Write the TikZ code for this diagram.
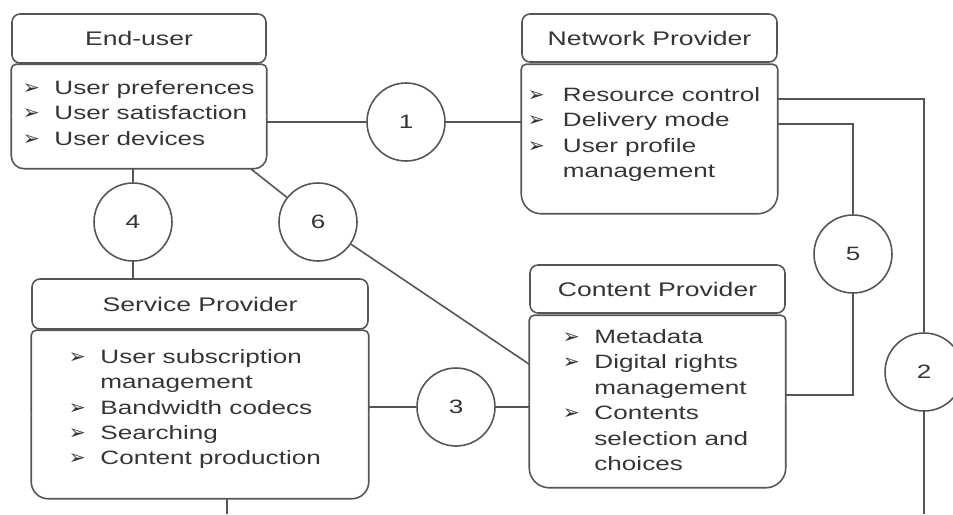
\documentclass[tikz,border=0pt]{standalone}
\usepackage{fontspec}
\setmainfont{Liberation Sans}[FakeStretch=1.35]
\newfontfamily\bulfont{DejaVu Sans}
\usetikzlibrary{calc}
\definecolor{ln}{HTML}{555555}
\definecolor{tx}{HTML}{353535}
\newcommand\itm[1][18pt]{\makebox[#1][l]{\bulfont\fontsize{11.5}{11.5}\selectfont ➢}}
\newcommand\cont[1][18pt]{\hspace*{#1}}
\newcommand\bodyline[2]{%
  \draw[rounded corners=0.1cm] (#1.west) |- (#1.north) -| (#1.east);
  \draw[rounded corners=#2] (#1.east) |- (#1.south) -| (#1.west);}
\begin{document}
\begin{tikzpicture}[x=0.02cm,y=-0.02cm,line width=0.9pt,color=ln,
  ttl/.style={draw=ln,rectangle,rounded corners=0.16cm,inner sep=0pt,text=tx,font=\fontsize{11.2}{13}\selectfont},
  bodybox/.style={draw=none,rectangle,inner sep=0pt},
  items/.style={draw=none,anchor=west,align=left,inner sep=0pt,text=tx,font=\fontsize{11}{14.5}\selectfont},
  num/.style={draw=ln,circle,minimum size=1.56cm,inner sep=0pt,text=tx,font=\fontsize{11}{13}\selectfont}]
\clip (0,0) rectangle (953,514);
\coordinate (bot) at (0,514);
% End-user
\node[ttl,minimum width=5.08cm,minimum height=0.98cm] (eut) at (139,38.5) {End-user};
\node[bodybox,minimum width=5.08cm,minimum height=2.06cm] (eub) at (139,116.5) {};
\bodyline{eub}{0.26cm}
\node[items] (eui) at (22,113) {\itm User preferences\\\itm User satisfaction\\\itm User devices};
% Network Provider
\node[ttl,minimum width=5.10cm,minimum height=0.96cm] (npt) at (649.5,38) {Network Provider};
\node[bodybox,minimum width=5.10cm,minimum height=2.96cm] (npb) at (649.5,139) {};
\bodyline{npb}{0.4cm}
\node[items] (npi) at (527,134.5) {\itm[20pt]Resource control\\\itm[20pt]Delivery mode\\\itm[20pt]User profile\\\cont[20pt]management};
% Service Provider
\node[ttl,minimum width=6.72cm,minimum height=1.0cm] (spt) at (200,304) {Service Provider};
\node[bodybox,minimum width=6.72cm,minimum height=3.34cm] (spb) at (200,414.5) {};
\bodyline{spb}{0.34cm}
\node[items] (spi) at (68,409) {\itm User subscription\\\cont management\\\itm Bandwidth codecs\\\itm Searching\\\itm Content production};
% Content Provider
\node[ttl,minimum width=5.10cm,minimum height=0.96cm] (cpt) at (657.5,289) {Content Provider};
\node[bodybox,minimum width=5.10cm,minimum height=3.42cm] (cpb) at (657.5,401.5) {};
\bodyline{cpb}{0.4cm}
\node[items] (cpi) at (562,400) {\itm Metadata\\\itm Digital rights\\\cont management\\\itm Contents\\\cont selection and\\\cont choices};
% circles
\node[num] (c1) at (406,122) {1};
\node[num] (c4) at (133,222) {4};
\node[num] (c6) at (318,222) {6};
\node[num] (c3) at (456,407) {3};
\node[num] (c5) at (853,254) {5};
\node[num] (c2) at (924,372) {2};
% connectors
\draw (c1.west) -- (c1.west -| eub.east);
\draw (c1.east) -- (c1.east -| npb.west);
\draw (c4.north) -- (c4.north |- eub.south);
\draw (c4.south) -- (c4.south |- spt.north);
\coordinate (e6) at ($(eub.south east)+(-16,0)$);
\coordinate (p6) at ($(cpb.north west)+(0,49)$);
\draw (c6) -- (e6);
\draw (c6) -- (p6);
\draw (c3.west) -- (c3.west -| spb.east);
\draw (c3.east) -- (c3.east -| cpb.west);
\coordinate (nA) at ($(npb.north east)+(0,35)$);
\coordinate (nB) at ($(npb.north east)+(0,60)$);
\coordinate (cB) at ($(cpb.north east)+(0,80)$);
\draw (nA) -| (c2.north);
\draw (c2.south) -- (c2.south |- bot);
\draw (nB) -| (c5.north);
\draw (c5.south) |- (cB);
\coordinate (sA) at ($(spb.south west)+(196,0)$);
\draw (sA) -- (sA |- bot);
\end{tikzpicture}
\end{document}
